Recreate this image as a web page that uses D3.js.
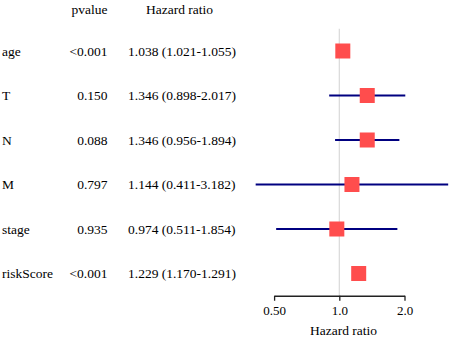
<!DOCTYPE html>
<html>
<head>
<meta charset="utf-8">
<script src="https://cdn.jsdelivr.net/npm/d3@7"></script>
<style>
  body { margin: 0; background: #fff; }
</style>
</head>
<body>
<script>
// data
var vars   = ["age", "T", "N", "M", "stage", "riskScore"];
var pvals  = ["<0.001", "0.150", "0.088", "0.797", "0.935", "<0.001"];
var hr     = [1.038, 1.346, 1.346, 1.144, 0.974, 1.229];
var lower  = [1.021, 0.898, 0.956, 0.411, 0.511, 1.170];
var upper  = [1.055, 2.017, 1.894, 3.182, 1.854, 1.291];
var tickValues = [0.5, 1, 2];
var tickLabels = ["0.50", "1.0", "2.0"];

var width = 451, height = 337;
var f3 = d3.format(".3f");
var font = "'Liberation Serif', 'Times New Roman', Times, serif";

var svg = d3.select("body").append("svg")
  .attr("width", width)
  .attr("height", height)
  .style("font-family", font)
  .style("font-size", "13.5px");

// log scale for hazard ratio
var x = d3.scaleLog().base(2)
  .domain([0.5, 2])
  .range([274.1, 404.5]);

var y = d3.scaleBand()
  .domain(vars)
  .range([28.75, 295.75]);

var rowY = function(d) { return y(d) + y.bandwidth() / 2; };

// reference line at 1 (behind the marks)
svg.append("line")
  .attr("x1", x(1)).attr("x2", x(1))
  .attr("y1", y.range()[0]).attr("y2", y.range()[1])
  .attr("stroke", "#d9d9d9").attr("stroke-width", 1.2);

// headers
svg.append("text").attr("x", 107.5).attr("y", 9.5).attr("dy", "0.35em")
  .attr("text-anchor", "end").text("pvalue");
svg.append("text").attr("x", 179.5).attr("y", 9.5).attr("dy", "0.35em")
  .attr("text-anchor", "middle").text("Hazard ratio");

// table columns
var rows = svg.append("g").selectAll("g").data(vars).enter().append("g");

rows.append("text")
  .attr("x", 2).attr("y", rowY).attr("dy", "0.35em")
  .text(function(d) { return d; });

rows.append("text")
  .attr("x", 107.5).attr("y", rowY).attr("dy", "0.35em")
  .attr("text-anchor", "end")
  .text(function(d, i) { return pvals[i]; });

rows.append("text")
  .attr("x", 128).attr("y", rowY).attr("dy", "0.35em")
  .text(function(d, i) { return f3(hr[i]) + " (" + f3(lower[i]) + "-" + f3(upper[i]) + ")"; });

// CI lines
rows.append("line")
  .attr("x1", function(d, i) { return x(lower[i]); })
  .attr("x2", function(d, i) { return x(upper[i]); })
  .attr("y1", rowY).attr("y2", rowY)
  .attr("stroke", "#000080").attr("stroke-width", 2);

// boxes
var box = 15;
rows.append("rect")
  .attr("x", function(d, i) { return x(hr[i]) - box / 2; })
  .attr("y", function(d) { return rowY(d) - box / 2; })
  .attr("width", box).attr("height", box)
  .attr("fill", "#ff4d4d");

// axis
var axis = svg.append("g")
  .attr("transform", "translate(0," + y.range()[1] + ")")
  .call(d3.axisBottom(x)
    .tickValues(tickValues)
    .tickFormat(function(d, i) { return tickLabels[i]; })
    .tickSize(5)
    .tickSizeOuter(0)
    .tickPadding(5.5));
axis.attr("font-family", null).attr("font-size", null);
axis.selectAll("path, line").attr("stroke", "#222").attr("stroke-width", 1.3);
axis.selectAll("text").attr("fill", "#000").style("font-size", "13px");

svg.append("text")
  .attr("x", 343.5).attr("y", 335)
  .attr("text-anchor", "middle")
  .text("Hazard ratio");
</script>
</body>
</html>
